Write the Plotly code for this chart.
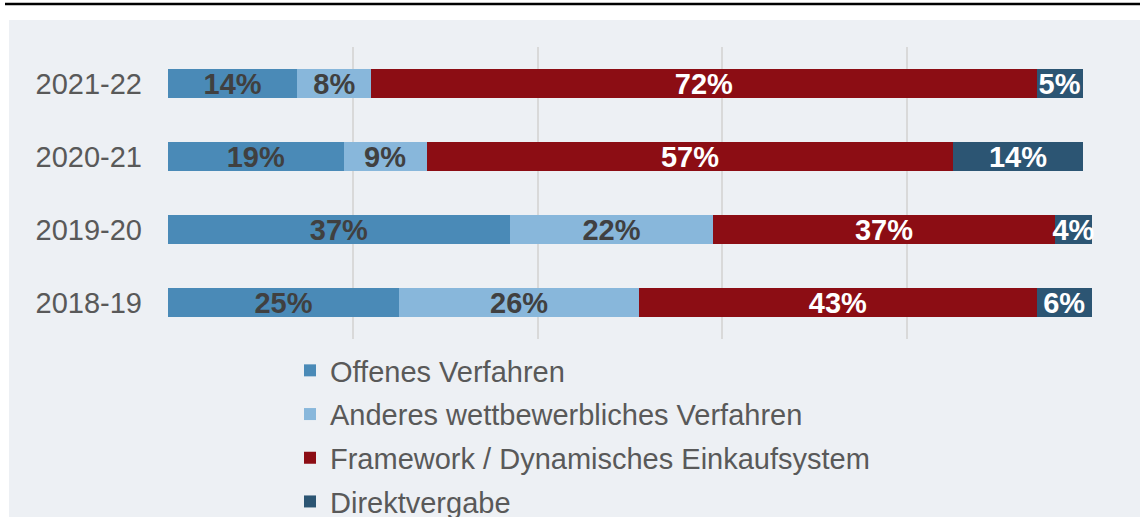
import plotly.graph_objects as go

years = ["2018-19", "2019-20", "2020-21", "2021-22"]
series_names = [
    "Offenes Verfahren",
    "Anderes wettbewerbliches Verfahren",
    "Framework / Dynamisches Einkaufsystem",
    "Direktvergabe",
]
offenes = [25, 37, 19, 14]
anderes = [26, 22, 9, 8]
framework = [43, 37, 57, 72]
direkt = [6, 4, 14, 5]
x_ticks = [0, 20, 40, 60, 80, 100]

colors = ["#4A8AB7", "#88B7DB", "#8C0D14", "#2C5573"]
text_colors = ["#404040", "#404040", "#FFFFFF", "#FFFFFF"]
values = [offenes, anderes, framework, direkt]

fig = go.Figure()
for i, (name, vals) in enumerate(zip(series_names, values)):
    fig.add_trace(go.Bar(
        y=years, x=vals, name=name, orientation="h",
        marker=dict(color=colors[i], line=dict(width=0)),
        text=[f"{v}%" for v in vals],
        textposition="inside", insidetextanchor="middle",
        textangle=0,
        textfont=dict(family="Liberation Sans, Arial", size=29, color=text_colors[i], weight="bold"),
        constraintext="none",
        legendgroup=f"g{i}",
        cliponaxis=False,
    ))

L, R, T, B = 168, 48, 47, 178
W, H = 1140, 517
pw, ph = W - L - R, H - T - B

def px(x):
    return (x - L) / pw

def py(y):
    return (H - B - y) / ph

panel = "#EDF0F4"
# white frame above and left of the grey panel
fig.add_shape(type="rect", xref="paper", yref="paper",
              x0=px(-20), x1=px(1250), y0=py(20), y1=py(-20),
              fillcolor="#FFFFFF", line=dict(width=0), layer="below")
fig.add_shape(type="rect", xref="paper", yref="paper",
              x0=px(-20), x1=px(9), y0=py(650), y1=py(20),
              fillcolor="#FFFFFF", line=dict(width=0), layer="below")
fig.add_shape(type="line", xref="paper", yref="paper",
              x0=px(5), x1=px(1250), y0=py(4), y1=py(4),
              line=dict(color="#000000", width=2.5))

fig.update_layout(
    width=W, height=H,
    margin=dict(l=L, r=R, t=T, b=B, pad=0, autoexpand=False),
    paper_bgcolor=panel,
    plot_bgcolor="rgba(0,0,0,0)",
    barmode="stack",
    bargap=0.6,
    font=dict(family="Liberation Sans, Arial", color="#595959"),
    xaxis=dict(range=[0, 100], tickvals=x_ticks, showticklabels=False,
               showgrid=True, gridcolor="#D9D9D9", gridwidth=2,
               zeroline=False, showline=False, fixedrange=True),
    yaxis=dict(categoryorder="array", categoryarray=years,
               tickfont=dict(size=29, color="#595959"),
               ticks="", ticklabelstandoff=25,
               showgrid=False, zeroline=False, showline=False),
    legend=dict(
        orientation="v", x=px(290), xanchor="left", y=py(345), yanchor="top",
        font=dict(size=29, color="#595959"),
        bgcolor="rgba(0,0,0,0)", traceorder="grouped",
        tracegroupgap=3, itemwidth=30,
    ),
    showlegend=True,
)

fig.write_html("out.html", config={"displayModeBar": False},
               post_script="document.body.style.margin='0';document.body.style.overflow='hidden';")
